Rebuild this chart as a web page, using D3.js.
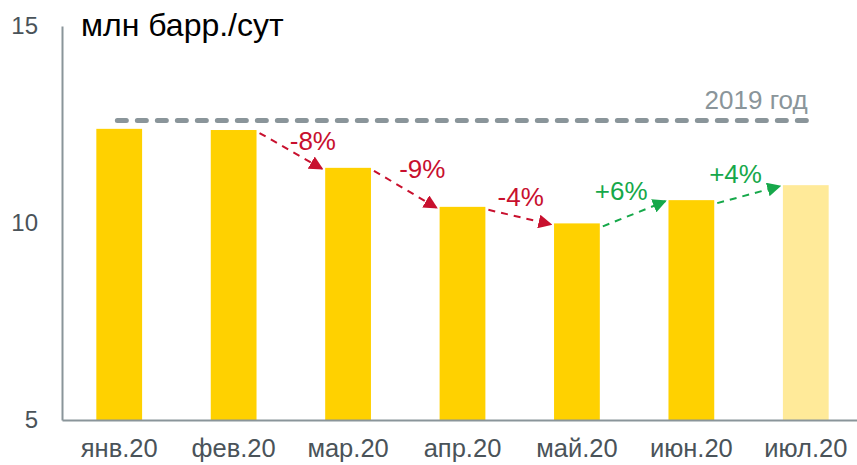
<!DOCTYPE html>
<html>
<head>
<meta charset="utf-8">
<script src="https://cdn.jsdelivr.net/npm/d3@7"></script>
<style>
  body { margin: 0; background: #fff; }
  svg { display: block; font-family: "Liberation Sans", Arial, sans-serif; }
</style>
</head>
<body>
<svg id="chart" width="857" height="465"></svg>
<script>
// data
var months = ["янв.20", "фев.20", "мар.20", "апр.20", "май.20", "июн.20", "июл.20"];
var output = [12.39, 12.36, 11.40, 10.41, 9.99, 10.58, 10.96];
var estimate = [false, false, false, false, false, false, true]; // last bar is pale
var changes = ["-8%", "-9%", "-4%", "+6%", "+4%"]; // фев->мар ... июн->июл
var level2019 = 12.6;
var yTicks = [5, 10, 15];
var unitLabel = "млн барр./сут";
var refLabel = "2019 год";

var W = 857, H = 465;
var axisGrey = "#8a959a", textGrey = "#4a5359";
var gold = "#ffd100", pale = "#ffea99";
var red = "#c8102e", green = "#16a84a";

var svg = d3.select("#chart");

var x = d3.scaleBand().domain(months).range([62, 863]).paddingInner(0.6).paddingOuter(0.3);
var y = d3.scaleLinear().domain([5, 15]).range([420, 26]);

// arrow heads
var defs = svg.append("defs");
[["redHead", red], ["greenHead", green]].forEach(function(m) {
  defs.append("marker")
    .attr("id", m[0])
    .attr("viewBox", "0 0 10 10")
    .attr("refX", 9).attr("refY", 5)
    .attr("markerWidth", 7).attr("markerHeight", 7)
    .attr("markerUnits", "strokeWidth")
    .attr("orient", "auto")
    .append("path")
    .attr("d", "M0,0 L10,5 L0,10 z")
    .attr("fill", m[1]);
});

// bars
svg.append("g").selectAll("rect")
  .data(output)
  .enter().append("rect")
  .attr("x", function(d, i) { return x(months[i]); })
  .attr("y", function(d) { return y(d); })
  .attr("width", x.bandwidth())
  .attr("height", function(d) { return y(5) - y(d); })
  .attr("fill", function(d, i) { return estimate[i] ? pale : gold; });

// axes
var yAxis = svg.append("g")
  .attr("transform", "translate(62,0)")
  .call(d3.axisLeft(y).tickValues(yTicks).tickSize(0).tickPadding(24));
yAxis.select(".domain").attr("stroke", axisGrey).attr("stroke-width", 2);
yAxis.selectAll("text").attr("font-size", 24).attr("fill", textGrey)
  .attr("font-family", "Liberation Sans, Arial, sans-serif");

var xAxis = svg.append("g")
  .attr("transform", "translate(0,420)")
  .call(d3.axisBottom(x).tickSize(0).tickPadding(19));
xAxis.select(".domain").attr("stroke", axisGrey).attr("stroke-width", 2);
xAxis.selectAll("text").attr("font-size", 25.5).attr("fill", textGrey)
  .attr("font-family", "Liberation Sans, Arial, sans-serif");

// 2019 reference line
svg.append("line")
  .attr("x1", x(months[0]) + 21).attr("x2", x(months[6]) + x.bandwidth() - 21)
  .attr("y1", y(level2019)).attr("y2", y(level2019))
  .attr("stroke", axisGrey).attr("stroke-width", 5)
  .attr("stroke-linecap", "round")
  .attr("stroke-dasharray", "9,11");
svg.append("text")
  .attr("x", x(months[6]) + x.bandwidth() - 21)
  .attr("y", y(level2019) - 12)
  .attr("text-anchor", "end")
  .attr("font-size", 26).attr("fill", axisGrey)
  .text(refLabel);

// month-on-month arrows, from фев onwards
var labelShift = [[22, -8], [17, -18], [1, -18], [-13, -21], [-13, -19]];
changes.forEach(function(c, k) {
  var i = k + 1;
  var up = c[0] == "+";
  var col = up ? green : red;
  var x0 = x(months[i]) + x.bandwidth() + 3, y0 = y(output[i]) + 3;
  var x1 = x(months[i + 1]) - 3, y1 = y(output[i + 1]) + 1;
  svg.append("line")
    .attr("x1", x0).attr("y1", y0).attr("x2", x1).attr("y2", y1)
    .attr("stroke", col).attr("stroke-width", 2)
    .attr("stroke-dasharray", "7,6")
    .attr("marker-end", "url(#" + (up ? "greenHead" : "redHead") + ")");
  var gapMid = (x(months[i]) + x.bandwidth() + x(months[i + 1])) / 2;
  svg.append("text")
    .attr("x", gapMid + labelShift[k][0])
    .attr("y", (y(output[i]) + y(output[i + 1])) / 2 + labelShift[k][1])
    .attr("dy", "0.35em")
    .attr("text-anchor", "middle")
    .attr("font-size", 26).attr("fill", col)
    .text(c);
});

// unit title
svg.append("text")
  .attr("x", 81).attr("y", 36)
  .attr("font-size", 32).attr("fill", "#000")
  .text(unitLabel);
</script>
</body>
</html>
